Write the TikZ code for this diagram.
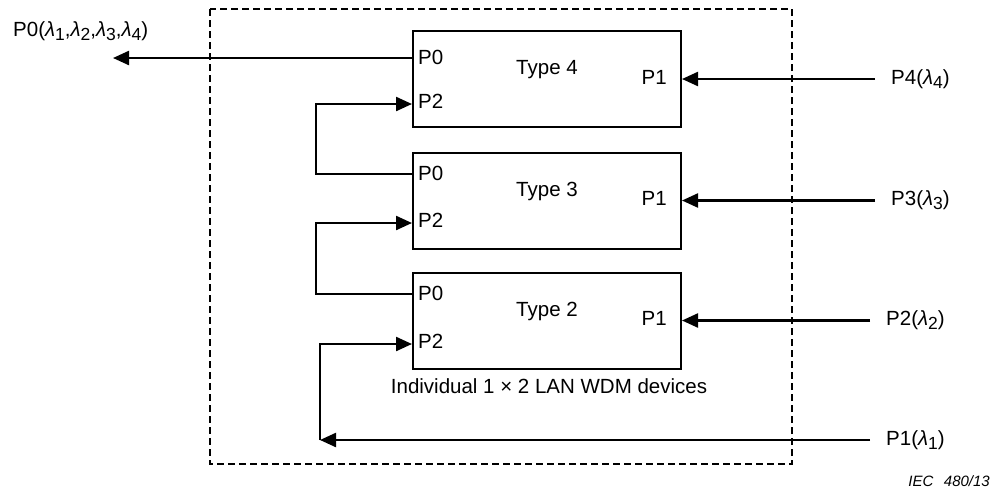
\documentclass[tikz,border=0pt]{standalone}
\usepackage{fontspec}
\setmainfont{Liberation Sans}
\usetikzlibrary{arrows.meta,calc}
\newcommand{\lam}[1]{\textit{λ}\raisebox{-0.2em}{\fontsize{17.5}{17.5}\selectfont #1}}
\begin{document}
\begin{tikzpicture}[x=1pt,y=-1pt,
  every node/.style={font=\fontsize{20.5}{22}\selectfont, inner sep=0pt},
  dev/.style={draw, line width=2pt, minimum width=268pt, minimum height=96pt},
  arr/.style={line width=2.3pt, -{Triangle[length=16pt,width=14pt]}},
  frame/.style={draw, line width=1.6pt, dash pattern=on 7pt off 4pt}]
\useasboundingbox (0,0) rectangle (997,493);
\draw[frame] (210,9) rectangle (792,464);
% devices
\node[dev] (t4) at (547,79) {};
\node[dev] (t3) at (547,200.5) {};
\node[dev] (t2) at (547,320.5) {};
\foreach \b/\n/\a/\c in {t4/4/-21/25,t3/3/-26.5/22.5,t2/2/-26.5/23.5}{
  \node (\b lab) at ($(\b.center)+(0,-9)$) {Type \n};
  \coordinate (\b p0) at ($(\b.west)+(0,\a)$);
  \coordinate (\b p2) at ($(\b.west)+(0,\c)$);
  \node[anchor=west] (\b l0) at ($(\b p0)+(6,-1)$) {P0};
  \node[anchor=west] (\b l2) at ($(\b p2)+(6,-3)$) {P2};
  \node[anchor=east] (\b l1) at ($(\b.east)+(-15,-2)$) {P1};
}
% output
\coordinate (out0) at (113,58);
\draw[arr] (t4p0) -- (out0);
\node[anchor=west] (lout) at (13,31) {P0(\lam{1},\lam{2},\lam{3},\lam{4})};
% inputs
\coordinate (in4) at (875,79);
\coordinate (in3) at (875,200.5);
\coordinate (in2) at (870,320.5);
\coordinate (in1) at (870,440);
\draw[arr] (in4) -- (t4.east);
\draw[arr] (in3) -- (t3.east);
\draw[arr] (in2) -- (t2.east);
\node[anchor=west] (l4) at (891,79) {P4(\lam{4})};
\node[anchor=west] (l3) at (891,200.5) {P3(\lam{3})};
\node[anchor=west] (l2) at (886,320.5) {P2(\lam{2})};
\node[anchor=west] (l1) at (886,440) {P1(\lam{1})};
% loops
\coordinate (lx) at (316,0);
\draw[arr] (t3p0) -- (t3p0 -| lx) |- (t4p2);
\draw[arr] (t2p0) -- (t2p0 -| lx) |- (t3p2);
\coordinate (c1) at (320,440);
\draw[arr] (in1) -- (c1);
\draw[arr] (c1) |- (t2p2);
% captions
\node (cap) at (549,386) {Individual 1 × 2 LAN WDM devices};
\node[anchor=east, font=\fontsize{15}{17}\selectfont\itshape] (iec) at (990,481) {IEC\hspace{0.7em}480/13};
\end{tikzpicture}
\end{document}
